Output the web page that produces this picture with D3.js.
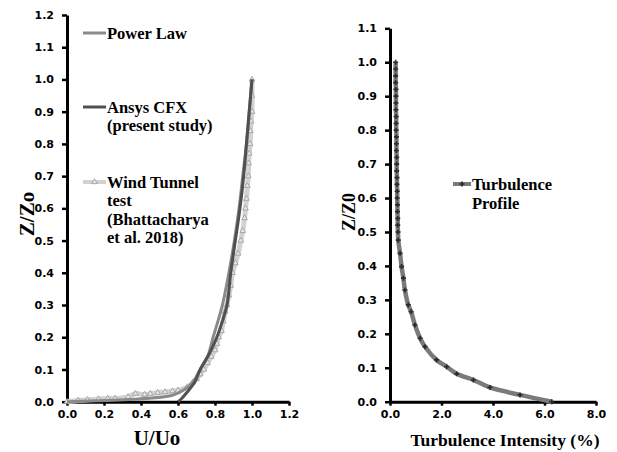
<!DOCTYPE html>
<html>
<head>
<meta charset="utf-8">
<script src="https://cdn.jsdelivr.net/npm/d3@7"></script>
<style>
  body { margin: 0; background: #fff; }
  svg { display: block; }
  .tick text { font-family: "DejaVu Sans", sans-serif; font-weight: bold; font-size: 11px; fill: #000; }
  .ttl { font-family: "Liberation Serif", "Times New Roman", serif; font-weight: bold; fill: #000; }
  .leg { font-family: "Liberation Serif", "Times New Roman", serif; font-weight: bold; font-size: 16.5px; fill: #000; }
</style>
</head>
<body>
<svg width="617" height="452"></svg>
<script>
// left chart: velocity profiles (U/Uo vs Z/Zo)
var powerU = [0, 0.57, 0.64, 0.68, 0.72, 0.76, 0.79, 0.84, 0.875, 0.905, 0.93, 0.95, 0.97, 0.985, 1.0]
var powerZ = [0, 0.02, 0.04, 0.06, 0.10, 0.14, 0.20, 0.30, 0.40, 0.50, 0.60, 0.70, 0.80, 0.90, 1.0]

var cfxU = [0.60, 0.62, 0.65, 0.69, 0.72, 0.77, 0.81, 0.84, 0.865, 0.885, 0.91, 0.935, 0.955, 0.97, 0.985, 1.0]
var cfxZ = [0, 0.01, 0.03, 0.06, 0.10, 0.15, 0.20, 0.25, 0.30, 0.40, 0.50, 0.60, 0.70, 0.80, 0.90, 1.0]

var tunnelU = [0, 0.06, 0.11, 0.17, 0.22, 0.26, 0.33, 0.37, 0.42, 0.45, 0.49, 0.53, 0.57, 0.60, 0.65, 0.68,
  0.70, 0.72, 0.74, 0.76, 0.78, 0.80, 0.81, 0.82, 0.835, 0.845, 0.855, 0.865, 0.875, 0.885, 0.895, 0.91,
  0.925, 0.94, 0.95, 0.96, 0.965, 0.97, 0.975, 0.98, 0.982, 0.985, 0.99, 0.992, 0.995, 1.0, 1.0, 1.0]
var tunnelZ = [0, 0.004, 0.006, 0.008, 0.01, 0.01, 0.015, 0.025, 0.022, 0.025, 0.028, 0.03, 0.033, 0.035, 0.045, 0.06,
  0.07, 0.085, 0.10, 0.12, 0.14, 0.16, 0.18, 0.20, 0.22, 0.25, 0.28, 0.30, 0.33, 0.36, 0.40, 0.43,
  0.46, 0.50, 0.53, 0.57, 0.60, 0.63, 0.67, 0.70, 0.74, 0.77, 0.80, 0.84, 0.87, 0.90, 0.95, 1.0]

var leftXTicks = [0, 0.2, 0.4, 0.6, 0.8, 1.0, 1.2]
var leftYTicks = [0, 0.1, 0.2, 0.3, 0.4, 0.5, 0.6, 0.7, 0.8, 0.9, 1.0, 1.1, 1.2]

// right chart: turbulence profile
var turbI = [0.22, 0.22, 0.22, 0.22, 0.23, 0.23, 0.23, 0.23, 0.24, 0.24, 0.24, 0.25, 0.25, 0.25, 0.26, 0.26,
  0.26, 0.27, 0.27, 0.28, 0.28, 0.29, 0.29, 0.30, 0.30, 0.31,
  0.32, 0.39, 0.45, 0.52, 0.58, 0.71, 0.82, 0.97, 1.17, 1.36, 1.81, 2.2, 2.59, 3.24, 3.88, 5.05, 6.28]
var turbZ = [1.0, 0.98, 0.96, 0.94, 0.92, 0.90, 0.88, 0.86, 0.84, 0.82, 0.80, 0.78, 0.76, 0.74, 0.72, 0.70,
  0.68, 0.66, 0.64, 0.62, 0.60, 0.58, 0.56, 0.54, 0.52, 0.50,
  0.476, 0.437, 0.398, 0.364, 0.329, 0.285, 0.265, 0.226, 0.187, 0.162, 0.123, 0.103, 0.082, 0.064, 0.042, 0.020, 0.0]

var rightXTicks = [0, 2, 4, 6, 8]
var rightYTicks = [0, 0.1, 0.2, 0.3, 0.4, 0.5, 0.6, 0.7, 0.8, 0.9, 1.0, 1.1]

var svg = d3.select("svg")

function pts(xs, ys) { return xs.map(function(v, i) { return [v, ys[i]] }) }

function drawAxes(g, x, y, xt, yt, xfmt, yfmt) {
  var xa = g.append("g")
    .attr("transform", "translate(0," + y.range()[0] + ")")
    .call(d3.axisBottom(x).tickValues(xt).tickFormat(xfmt).tickSize(4).tickSizeOuter(0).tickPadding(5))
  var ya = g.append("g")
    .attr("transform", "translate(" + x.range()[0] + ",0)")
    .call(d3.axisLeft(y).tickValues(yt).tickFormat(yfmt).tickSize(5).tickSizeOuter(0).tickPadding(8))
  ;[xa, ya].forEach(function(a) {
    a.select(".domain").attr("stroke", "#000").attr("stroke-width", 3)
    a.selectAll(".tick line").attr("stroke", "#000").attr("stroke-width", 2.5)
  })
}

// ---------- left chart ----------
var xL = d3.scaleLinear().domain([0, 1.2]).range([67, 289])
var yL = d3.scaleLinear().domain([0, 1.2]).range([401.7, 15])
var gL = svg.append("g")
drawAxes(gL, xL, yL, leftXTicks, leftYTicks, d3.format(".1f"), d3.format(".1f"))

var lineL = d3.line().curve(d3.curveCatmullRom.alpha(0.5))
  .x(function(d) { return xL(d[0]) }).y(function(d) { return yL(d[1]) })

gL.append("path").datum(pts(tunnelU, tunnelZ))
  .attr("d", lineL).attr("fill", "none").attr("stroke", "#d2d2d2").attr("stroke-width", 5)
var tri = d3.symbol().type(d3.symbolTriangle).size(14)
gL.selectAll(".tri").data(pts(tunnelU, tunnelZ)).enter().append("path")
  .attr("d", tri).attr("transform", function(d) { return "translate(" + xL(d[0]) + "," + yL(d[1]) + ")" })
  .attr("fill", "#e6e6e6").attr("stroke", "#999").attr("stroke-width", 0.8)

gL.append("path").datum(pts(powerU, powerZ))
  .attr("d", lineL).attr("fill", "none").attr("stroke", "#8a8a8a").attr("stroke-width", 3)
gL.append("path").datum(pts(cfxU, cfxZ))
  .attr("d", lineL).attr("fill", "none").attr("stroke", "#505050").attr("stroke-width", 3)

// legend left
var legL = [
  { lines: ["Power Law"], y: 33, color: "#8a8a8a", w: 3 },
  { lines: ["Ansys CFX", "(present study)"], y: 107, color: "#505050", w: 3 },
  { lines: ["Wind Tunnel", "test", "(Bhattacharya", "et al. 2018)"], y: 182, color: "#d2d2d2", w: 4, tri: true }
]
legL.forEach(function(l) {
  gL.append("line").attr("x1", 83).attr("x2", 106).attr("y1", l.y).attr("y2", l.y)
    .attr("stroke", l.color).attr("stroke-width", l.w)
  if (l.tri) gL.append("path").attr("d", tri).attr("transform", "translate(94.5," + l.y + ")")
    .attr("fill", "#e6e6e6").attr("stroke", "#999").attr("stroke-width", 0.8)
  l.lines.forEach(function(t, i) {
    gL.append("text").attr("class", "leg").attr("x", 107).attr("y", l.y + 5.5 + i * 18.5).text(t)
  })
})

gL.append("text").attr("class", "ttl").attr("font-size", 21)
  .attr("text-anchor", "middle").attr("x", 157).attr("y", 445).text("U/Uo")
gL.append("text").attr("class", "ttl").attr("font-size", 21)
  .attr("text-anchor", "middle").attr("transform", "translate(34,214) rotate(-90)").text("Z/Zo")

// ---------- right chart ----------
var xR = d3.scaleLinear().domain([0, 8]).range([390, 596])
var yR = d3.scaleLinear().domain([0, 1.1]).range([401.7, 28.3])
var gR = svg.append("g")
drawAxes(gR, xR, yR, rightXTicks, rightYTicks, d3.format(".1f"), d3.format(".1f"))

var lineR = d3.line().curve(d3.curveCatmullRom.alpha(0.5))
  .x(function(d) { return xR(d[0]) }).y(function(d) { return yR(d[1]) })
gR.append("path").datum(pts(turbI, turbZ))
  .attr("d", lineR).attr("fill", "none").attr("stroke", "#7a7a7a").attr("stroke-width", 4.5)
var cross = d3.symbol().type(d3.symbolCross).size(14)
gR.selectAll(".mk").data(pts(turbI, turbZ)).enter().append("path")
  .attr("d", cross).attr("transform", function(d) { return "translate(" + xR(d[0]) + "," + yR(d[1]) + ")" })
  .attr("fill", "#2a2a2a")

gR.append("line").attr("x1", 453).attr("x2", 471).attr("y1", 184).attr("y2", 184)
  .attr("stroke", "#7a7a7a").attr("stroke-width", 4)
gR.append("path").attr("d", cross).attr("transform", "translate(462,184)").attr("fill", "#2a2a2a")
gR.append("text").attr("class", "leg").attr("font-size", 16).attr("x", 472).attr("y", 189.5).text("Turbulence")
gR.append("text").attr("class", "leg").attr("font-size", 16).attr("x", 472).attr("y", 208.5).text("Profile")

gR.append("text").attr("class", "ttl").attr("font-size", 17.5)
  .attr("text-anchor", "middle").attr("x", 505).attr("y", 446).text("Turbulence Intensity (%)")
gR.append("text").attr("class", "ttl").attr("font-size", 18)
  .attr("text-anchor", "middle").attr("transform", "translate(355,212) rotate(-90)").text("Z/Z0")
</script>
</body>
</html>
